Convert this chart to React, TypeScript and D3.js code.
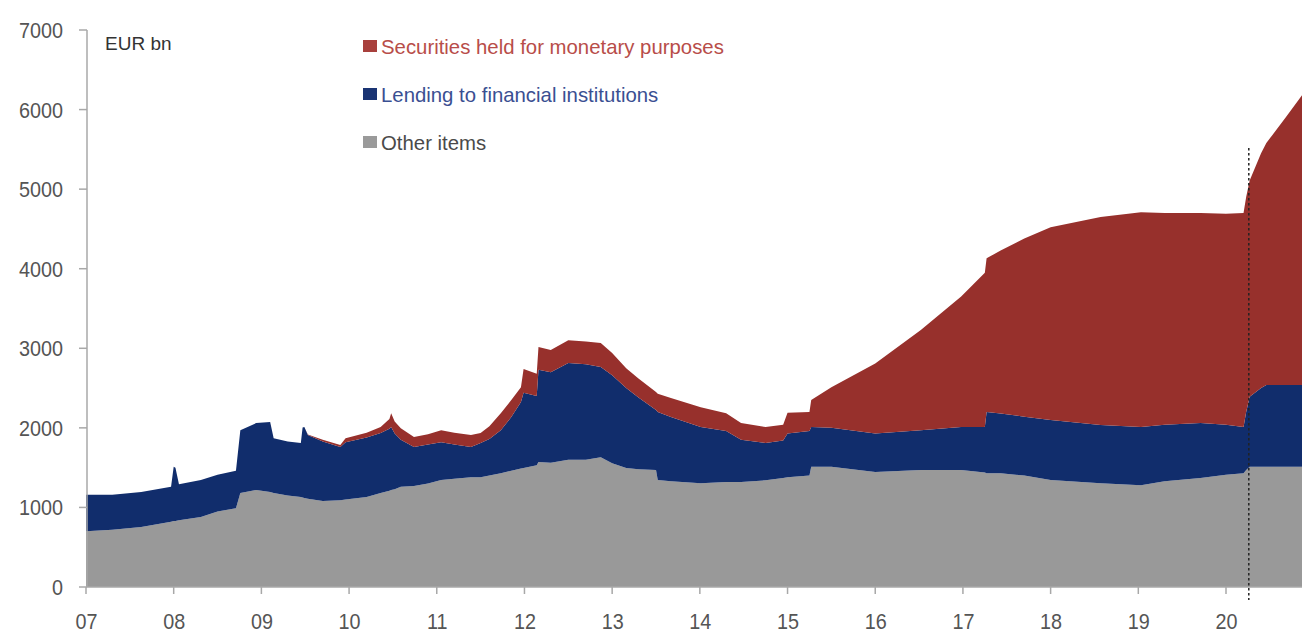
import React from "react";
import * as d3 from "d3";

// Time in decimal years
const dates = [
  2007.0, 2007.3, 2007.63, 2007.97, 2008.0, 2008.02, 2008.06, 2008.31, 2008.5, 2008.71, 2008.76,
  2008.94, 2009.1, 2009.14, 2009.3, 2009.45, 2009.47, 2009.49, 2009.53, 2009.7, 2009.9, 2009.96,
  2010.2, 2010.36, 2010.46, 2010.48, 2010.52, 2010.59, 2010.74, 2010.9, 2011.05, 2011.2, 2011.39,
  2011.5, 2011.6, 2011.73, 2011.85, 2011.96, 2011.99, 2012.14, 2012.16, 2012.3, 2012.5, 2012.7,
  2012.87, 2013.0, 2013.16, 2013.3, 2013.5, 2013.52, 2013.67, 2014.01, 2014.3, 2014.47, 2014.75,
  2014.95, 2015.0, 2015.25, 2015.27, 2015.5, 2016.0, 2016.52, 2016.98, 2017.25, 2017.27, 2017.43,
  2017.7, 2018.0, 2018.57, 2019.03, 2019.3, 2019.71, 2020.0, 2020.2, 2020.23, 2020.27, 2020.4,
  2020.46, 2020.68, 2020.88,
];

// Layer values (EUR bn)
const otherItems = [
  700, 720, 755, 820, 830, 830, 840, 880, 950, 990, 1180,
  1220, 1195, 1180, 1150, 1130, 1125, 1120, 1110, 1080, 1090, 1100,
  1130, 1180, 1210, 1220, 1230, 1260, 1270, 1300, 1345, 1360, 1380,
  1380, 1400, 1430, 1460, 1490, 1495, 1530, 1570, 1560, 1600, 1600,
  1630, 1555, 1495, 1480, 1470, 1345, 1330, 1305, 1320, 1320, 1340,
  1370, 1380, 1400, 1510, 1510, 1445, 1470, 1470, 1440, 1430, 1430,
  1400, 1345, 1305, 1280, 1330, 1370, 1410, 1430, 1470, 1510, 1510,
  1510, 1510, 1510,
];

const lending = [
  460, 440, 440, 440, 680, 670, 450, 465, 460, 470, 790,
  840, 880, 690, 680, 680, 880, 890, 800, 750, 670, 720,
  750, 755, 780, 790, 700, 590, 490, 490, 475, 430, 380,
  430, 460, 540, 675, 835, 945, 870, 1160, 1140, 1215, 1200,
  1135, 1105, 1005, 900, 755, 855, 805, 705, 640, 530, 470,
  470, 550, 560, 500, 490, 485, 500, 540, 570, 770, 750,
  740, 755, 730, 730, 710, 690, 630, 580, 730, 880, 990,
  1030, 1030, 1030,
];

const securities = [
  0, 0, 0, 0, 0, 0, 0, 0, 0, 0, 0,
  0, 0, 0, 0, 0, 0, 0, 5, 20, 25, 50,
  60, 75, 120, 175, 150, 145, 125, 130, 150, 150, 150,
  125, 160, 215, 215, 185, 300, 280, 285, 280, 285, 285,
  300, 280, 250, 240, 225, 230, 240, 250, 225, 210, 200,
  200, 260, 240, 340, 510, 880, 1260, 1640, 1940, 1930, 2050,
  2240, 2420, 2615, 2700, 2660, 2640, 2650, 2690, 2700, 2720, 2950,
  3040, 3360, 3660,
];

const yTicks = [0, 1000, 2000, 3000, 4000, 5000, 6000, 7000];
const yearTicks = [2007, 2008, 2009, 2010, 2011, 2012, 2013, 2014, 2015, 2016, 2017, 2018, 2019, 2020];
const pandemicDate = 2020.26;

const seriesKeys = ["other", "lending", "securities"];
const seriesColors: Record<string, string> = {
  other: "#999999",
  lending: "#112d6c",
  securities: "#97302c",
};
const legendItems = [
  { key: "securities", label: "Securities held for monetary purposes", box: "#a8403c", text: "#b84d49" },
  { key: "lending", label: "Lending to financial institutions", box: "#1a3473", text: "#3a4f92" },
  { key: "other", label: "Other items", box: "#9a9a9a", text: "#4a4a4a" },
];

const W = 1302;
const H = 635;
const FONT = "'Liberation Sans', Arial, sans-serif";

export default function App() {
  const table = dates.map((d, i) => ({
    date: d,
    other: otherItems[i],
    lending: lending[i],
    securities: securities[i],
  }));

  const x = d3.scaleLinear().domain([2007, 2020]).range([86, 1226]);
  const y = d3.scaleLinear().domain([0, 7000]).range([587, 30]);

  const stacked = d3.stack<any>().keys(seriesKeys)(table);
  const area = d3
    .area<any>()
    .x((d) => x(d.data.date))
    .y0((d) => y(d[0]))
    .y1((d) => y(d[1]))
    .curve(d3.curveLinear);

  const axisColor = "#a8a8a8";
  const labelColor = "#555555";

  return (
    <svg
      width={W}
      height={H}
      style={{ position: "absolute", left: 0, top: 0, background: "#ffffff" }}
    >
      <rect x={0} y={0} width={W} height={H} fill="#ffffff" />
      {stacked.map((s) => (
        <path key={s.key} d={area(s) || ""} fill={seriesColors[s.key]} />
      ))}

      {/* y axis */}
      <line x1={87} x2={87} y1={y(7000)} y2={y(0)} stroke={axisColor} strokeWidth={1.5} />
      {yTicks.map((t) => (
        <g key={t}>
          <line x1={79} x2={87} y1={y(t)} y2={y(t)} stroke={axisColor} strokeWidth={1.5} />
          <text
            transform={`translate(63, ${y(t)}) scale(0.9, 1)`}
            dy="0.36em"
            textAnchor="end"
            fontFamily={FONT}
            fontSize={22}
            fill={labelColor}
          >
            {t}
          </text>
        </g>
      ))}

      {/* x axis */}
      <line x1={x(2007)} x2={W} y1={y(0)} y2={y(0)} stroke={axisColor} strokeWidth={1.5} />
      {yearTicks.map((t) => (
        <g key={t}>
          <line x1={x(t)} x2={x(t)} y1={y(0)} y2={y(0) + 7} stroke={axisColor} strokeWidth={1.5} />
          <text
            transform={`translate(${x(t) + 0.5}, 621) scale(0.9, 1)`}
            dy="0.36em"
            textAnchor="middle"
            fontFamily={FONT}
            fontSize={22}
            fill={labelColor}
          >
            {String(t % 100).padStart(2, "0")}
          </text>
        </g>
      ))}

      {/* dotted marker line */}
      <line
        x1={x(pandemicDate)}
        x2={x(pandemicDate)}
        y1={148}
        y2={600}
        stroke="#222222"
        strokeWidth={1.5}
        strokeDasharray="2.5,2.5"
      />

      {/* unit label */}
      <text x={105} y={43} dy="0.36em" fontFamily={FONT} fontSize={19} fill="#333333">
        EUR bn
      </text>

      {/* legend */}
      {legendItems.map((it, i) => (
        <g key={it.key} transform={`translate(363, ${46 + i * 48})`}>
          <rect x={0} y={-6} width={14} height={12} fill={it.box} />
          <text
            transform="translate(18, 0) scale(0.97, 1)"
            dy="0.36em"
            fontFamily={FONT}
            fontSize={21}
            fill={it.text}
          >
            {it.label}
          </text>
        </g>
      ))}
    </svg>
  );
}
